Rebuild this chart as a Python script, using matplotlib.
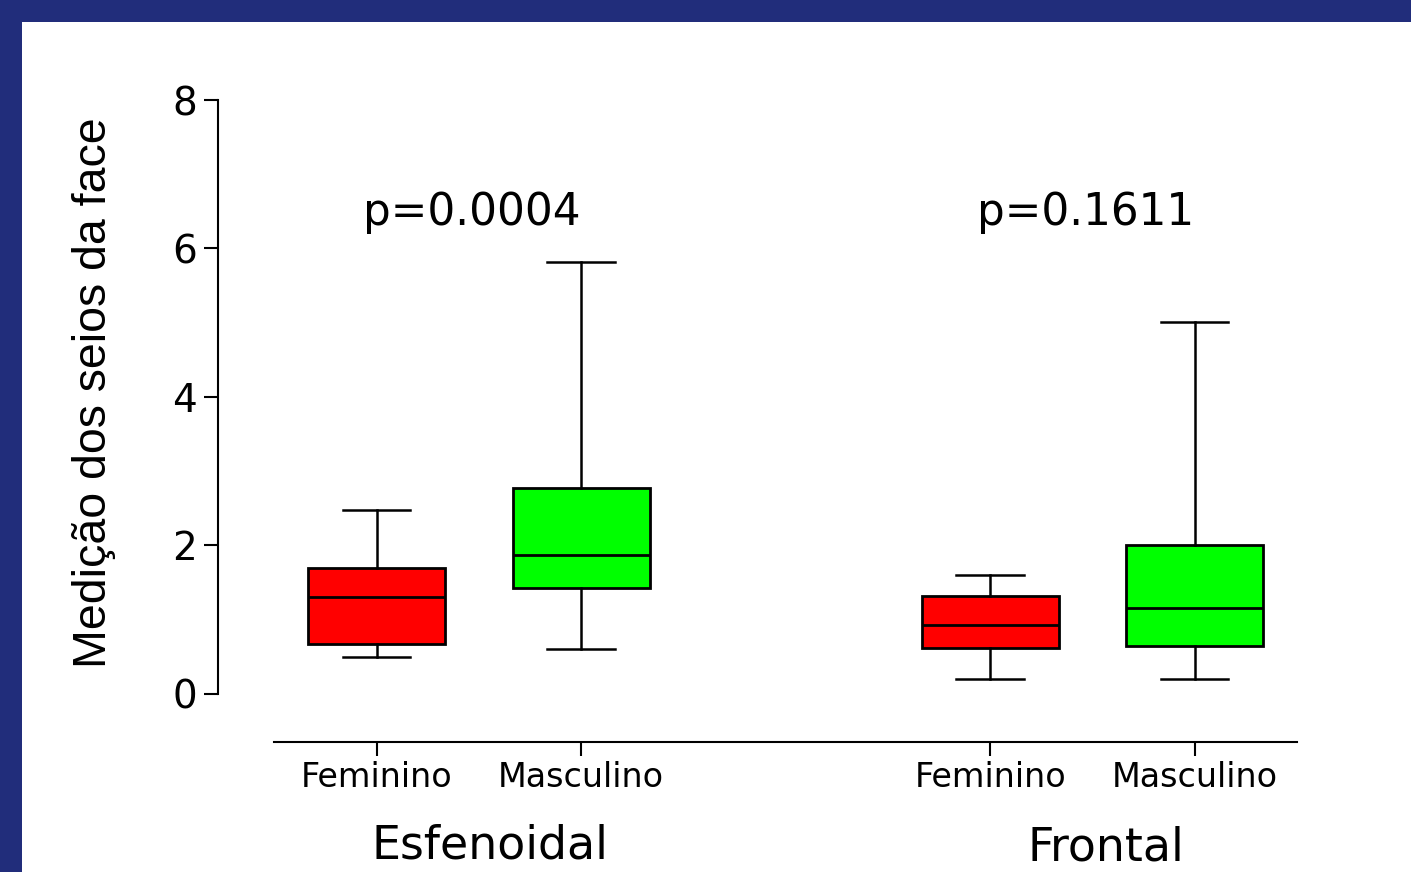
import matplotlib
matplotlib.use("Agg")
import matplotlib.pyplot as plt
from matplotlib.patches import Rectangle

# ---- data ----
groups = ["Esfenoidal", "Frontal"]
tick_labels = ["Feminino", "Masculino", "Feminino", "Masculino"]
whislo = [0.50, 0.60, 0.20, 0.20]
q1 = [0.67, 1.42, 0.62, 0.64]
med = [1.30, 1.87, 0.93, 1.16]
q3 = [1.70, 2.77, 1.31, 2.00]
whishi = [2.48, 5.82, 1.60, 5.01]
p_values = ["p=0.0004", "p=0.1611"]
yticks = [0, 2, 4, 6, 8]

# ---- layout / style ----
positions = [0, 1, 3, 4]
box_colors = ["#ff0000", "#00ff00", "#ff0000", "#00ff00"]
blue = "#212d7b"
W, H = 1411, 872

fig = plt.figure(figsize=(W / 100, H / 100), dpi=100)
fig.patch.set_facecolor(blue)
fig.patches.append(Rectangle((22 / W, 0), 1 - 22 / W, (H - 22) / H,
                             transform=fig.transFigure, facecolor="white",
                             edgecolor="none", zorder=-5))

ax = fig.add_axes([218 / W, 130 / H, (1297 - 218) / W, (742 - 100) / H])
ax.patch.set_alpha(0)

stats = []
for i in range(len(med)):
    stats.append(dict(med=med[i], q1=q1[i], q3=q3[i], whislo=whislo[i],
                      whishi=whishi[i], fliers=[]))

bp = ax.bxp(stats, positions=positions, widths=0.67, capwidths=0.33,
            patch_artist=True, showfliers=False,
            boxprops=dict(linewidth=2.0, edgecolor="black"),
            medianprops=dict(color="black", linewidth=2.0),
            whiskerprops=dict(color="black", linewidth=1.8),
            capprops=dict(color="black", linewidth=1.8))
for patch, c in zip(bp["boxes"], box_colors):
    patch.set_facecolor(c)

ax.set_xlim(-0.775, 4.5)
ax.set_ylim(-0.651, 8.0)

for s in ["top", "right"]:
    ax.spines[s].set_visible(False)
ax.spines["left"].set_bounds(0, 8)
ax.spines["bottom"].set_bounds(-0.5, 4.5)
for s in ["left", "bottom"]:
    ax.spines[s].set_linewidth(1.5)

ax.set_yticks(yticks)
ax.set_yticklabels([str(v) for v in yticks], fontsize=28, family="DejaVu Sans")
ax.set_xticks(positions)
ax.set_xticklabels(tick_labels, fontsize=24, family="DejaVu Sans")
ax.tick_params(axis="y", length=10, width=1.5, pad=5)
ax.tick_params(axis="x", length=10, width=1.5, pad=4)

# p-values
p_x = [0.467, 3.465]
for x, t in zip(p_x, p_values):
    ax.text(x, 6.32, t, ha="center", va="baseline", fontsize=31.5,
            family="DejaVu Sans")

# group labels
fig.text(490 / W, 1 - 858 / H, groups[0], ha="center", va="baseline",
         fontsize=33, family="DejaVu Sans")
fig.text(1106 / W, 1 - 860 / H, groups[1], ha="center", va="baseline",
         fontsize=33, family="DejaVu Sans")

# y label
fig.text(94 / W, 1 - 393 / H, "Medição dos seios da face", rotation=90,
         ha="center", va="center", fontsize=33.5, family="Liberation Sans")

fig.savefig("out.png", dpi=100, facecolor=fig.get_facecolor())
